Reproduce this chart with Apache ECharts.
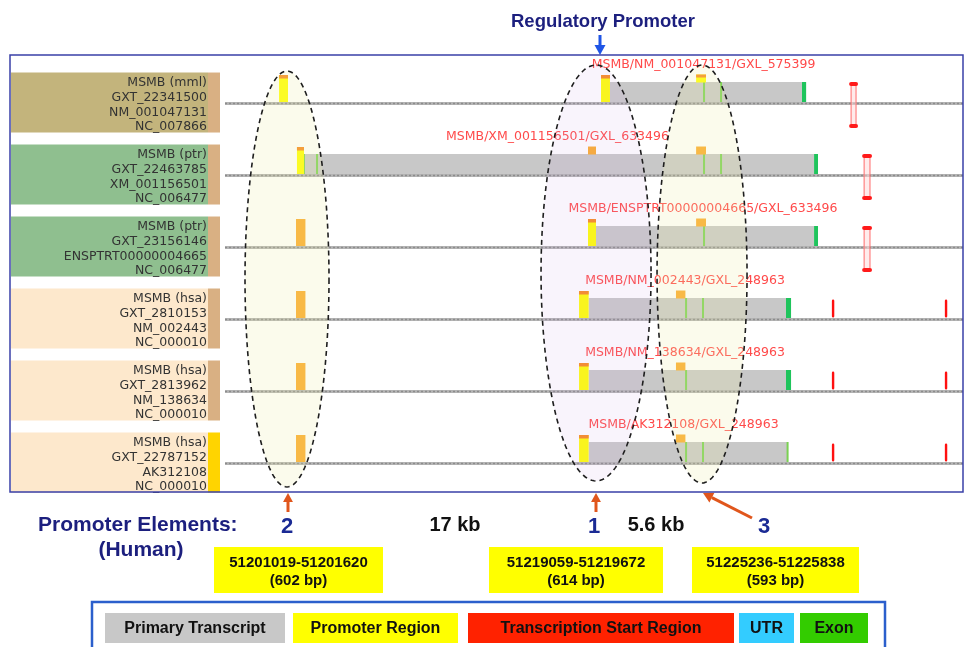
<!DOCTYPE html>
<html>
<head>
<meta charset="utf-8">
<title>MSMB promoter elements</title>
<script src="https://cdn.jsdelivr.net/npm/echarts@6/dist/echarts.min.js"></script>
<style>
  html, body { margin: 0; padding: 0; background: #ffffff; }
  #chart { width: 966px; height: 647px; }
</style>
</head>
<body>
<div id="chart"></div>
<script>
// ---- Track descriptions (one entry per track, top to bottom) ----
const trackSpecies = ['MSMB (mml)', 'MSMB (ptr)', 'MSMB (ptr)', 'MSMB (hsa)', 'MSMB (hsa)', 'MSMB (hsa)'];
const trackLoci = ['GXT_22341500', 'GXT_22463785', 'GXT_23156146', 'GXT_2810153', 'GXT_2813962', 'GXT_22787152'];
const trackAccessions = ['NM_001047131', 'XM_001156501', 'ENSPTRT00000004665', 'NM_002443', 'NM_138634', 'AK312108'];
const trackChromosomes = ['NC_007866', 'NC_006477', 'NC_006477', 'NC_000010', 'NC_000010', 'NC_000010'];
const transcriptNames = [
  'MSMB/NM_001047131/GXL_575399',
  'MSMB/XM_001156501/GXL_633496',
  'MSMB/ENSPTRT00000004665/GXL_633496',
  'MSMB/NM_002443/GXL_248963',
  'MSMB/NM_138634/GXL_248963',
  'MSMB/AK312108/GXL_248963'
];

// Aligned view window, human chr10 coordinates (bp)
const viewStart = 51196494;
const viewEnd = 51243530;

// Primary transcripts: [track, start, end]
const transcripts = [
  [0, 51221030, 51233530],
  [1, 51201530, 51234290],
  [2, 51220140, 51234290],
  [3, 51219672, 51232570],
  [4, 51219672, 51232570],
  [5, 51219672, 51232380]
];

// Promoter regions with their start cap: [track, start, end]
const promoterRegions = [
  [0, 51199940, 51200510],
  [0, 51220460, 51221030],
  [1, 51201080, 51201530],
  [2, 51219630, 51220140],
  [3, 51219059, 51219672],
  [4, 51219059, 51219672],
  [5, 51219059, 51219672]
];

// Upstream promoter elements (full height): [track, start, end]
const upstreamElements = [
  [2, 51201019, 51201620],
  [3, 51201019, 51201620],
  [4, 51201019, 51201620],
  [5, 51201019, 51201620]
];

// Small conserved promoter sites sitting on the transcript: [track, start, end, withPromoterFill]
const conservedSites = [
  [0, 51226520, 51227150, 1],
  [1, 51219630, 51220140, 0],
  [1, 51226520, 51227150, 0],
  [2, 51226520, 51227150, 0],
  [3, 51225236, 51225838, 0],
  [4, 51225236, 51225838, 0],
  [5, 51225236, 51225838, 0]
];

// Exon boundaries: [track, position]
const exonEdges = [
  [0, 51227025], [0, 51228110],
  [1, 51201530], [1, 51202360], [1, 51227025], [1, 51228110],
  [2, 51227025],
  [3, 51225880], [3, 51226960],
  [4, 51225880],
  [5, 51225880], [5, 51226960], [5, 51232350]
];

// Last exons: [track, start, end]
const lastExons = [
  [0, 51233270, 51233530],
  [1, 51234040, 51234290],
  [2, 51234040, 51234290],
  [3, 51232250, 51232570],
  [4, 51232250, 51232570]
];

// Paired transcription start regions: [track, start, end]
const startRegions = [
  [0, 51236270, 51236840],
  [1, 51237100, 51237730],
  [2, 51237100, 51237730]
];

// Single transcription start sites: [track, position]
const startSites = [
  [3, 51235250], [3, 51242450],
  [4, 51235250], [4, 51242450],
  [5, 51235250], [5, 51242450]
];

// Promoter element outlines: [start, end, topTrack, bottomTrack]
const elementOutlines = [
  [51197769, 51203123, -0.451, 5.326],
  [51216636, 51223648, -0.535, 5.243],
  [51224030, 51229766, -0.535, 5.271]
];
const outlineFills = ['rgba(238,238,170,0.22)', 'rgba(205,170,235,0.13)', 'rgba(238,238,170,0.22)'];

// Human promoter elements summary
const humanElementIds = ['2', '1', '3'];
const humanElementStart = [51201019, 51219059, 51225236];
const humanElementEnd = [51201620, 51219672, 51225838];
const humanElementLength = [602, 614, 593];
const elementGaps = ['17 kb', '5.6 kb'];

// Legend
const legendNames = ['Primary Transcript', 'Promoter Region', 'Transcription Start Region', 'UTR', 'Exon'];
const legendColors = ['#c8c8c8', '#ffff00', '#ff2200', '#33ccff', '#33cc00'];

// ---- Drawing ----
const Y_MIN = -0.674, Y_MAX = 5.396;
const TRACK_FONT = '12.5px "DejaVu Sans", Verdana, sans-serif';
const panelColors = { mml: '#c3b47c', ptr: '#8fbf8f', hsa: '#fde8cc' };
const ORANGE = '#fbab2b';
const CAP = '#f7891d';

const chart = echarts.init(document.getElementById('chart'), null, { renderer: 'canvas' });

function pt(api, pos, track) { return api.coord([pos, track]); }

function customOnTracks(name, data, z, encode, renderItem) {
  return {
    type: 'custom', name, xAxisIndex: 1, yAxisIndex: 1, z, data, silent: true,
    animation: false, encode, renderItem
  };
}

const trackIdx = trackSpecies.map((_, i) => [i]);

const series = [
  // label panels on the left
  {
    type: 'custom', xAxisIndex: 0, yAxisIndex: 0, z: 2, silent: true, animation: false,
    data: trackIdx.map(d => [0.5, d[0]]), encode: { x: 0, y: 1 },
    renderItem(params, api) {
      const i = api.value(1);
      const b = api.coord([0, i])[1];
      const left = params.coordSys.x, w = params.coordSys.width;
      const code = trackSpecies[i].match(/\((\w+)\)/)[1];
      const strip = i === trackSpecies.length - 1 ? '#ffd400' : '#d9b083';
      const lines = [trackSpecies[i], trackLoci[i], trackAccessions[i], trackChromosomes[i]];
      return {
        type: 'group',
        children: [
          { type: 'rect', shape: { x: left, y: b - 31, width: w - 12, height: 60 }, style: { fill: panelColors[code] } },
          { type: 'rect', shape: { x: left + w - 12, y: b - 31, width: 12, height: 60 }, style: { fill: strip } }
        ].concat(lines.map((t, k) => ({
          type: 'text',
          style: { text: t, x: left + w - 13, y: b - 20.5 + k * 14.7, align: 'right', verticalAlign: 'middle', font: TRACK_FONT, fill: '#333333' }
        })))
      };
    }
  },
  // track baselines
  customOnTracks('baseline', trackIdx.map(d => [viewStart, d[0]]), 1, { x: 0, y: 1 }, (params, api) => {
    const b = api.coord([viewStart, api.value(1)])[1];
    const cs = params.coordSys;
    return {
      type: 'group',
      children: [
        { type: 'line', shape: { x1: cs.x, y1: b, x2: cs.x + cs.width, y2: b }, style: { stroke: '#b4b4b4', lineWidth: 3 } },
        { type: 'line', shape: { x1: cs.x, y1: b, x2: cs.x + cs.width, y2: b }, style: { stroke: '#8c8c8c', lineWidth: 1.4, lineDash: [2, 2] } }
      ]
    };
  }),
  // primary transcripts
  customOnTracks('transcript', transcripts, 2, { x: [1, 2], y: 0 }, (params, api) => {
    const a = pt(api, api.value(1), api.value(0)), c = pt(api, api.value(2), api.value(0));
    return { type: 'rect', shape: { x: a[0], y: a[1] - 21.5, width: c[0] - a[0], height: 20 }, style: { fill: '#c8c8c8' } };
  }),
  // exon boundaries
  customOnTracks('exon', exonEdges, 3, { x: 1, y: 0 }, (params, api) => {
    const a = pt(api, api.value(1), api.value(0));
    return { type: 'rect', shape: { x: a[0] - 1, y: a[1] - 21.5, width: 2, height: 20 }, style: { fill: '#7ad152' } };
  }),
  // last exons
  customOnTracks('lastExon', lastExons, 3, { x: [1, 2], y: 0 }, (params, api) => {
    const a = pt(api, api.value(1), api.value(0)), c = pt(api, api.value(2), api.value(0));
    return { type: 'rect', shape: { x: a[0], y: a[1] - 21.5, width: c[0] - a[0], height: 20 }, style: { fill: '#1fc45c' } };
  }),
  // promoter regions with start cap
  customOnTracks('promoter', promoterRegions, 4, { x: [1, 2], y: 0 }, (params, api) => {
    const a = pt(api, api.value(1), api.value(0)), c = pt(api, api.value(2), api.value(0));
    const w = c[0] - a[0], b = a[1];
    return {
      type: 'group',
      children: [
        { type: 'rect', shape: { x: a[0], y: b - 28.5, width: w, height: 27 }, style: { fill: '#ffff00' } },
        { type: 'rect', shape: { x: a[0], y: b - 28.5, width: w, height: 3.5 }, style: { fill: CAP } }
      ]
    };
  }),
  // upstream elements
  customOnTracks('upstream', upstreamElements, 4, { x: [1, 2], y: 0 }, (params, api) => {
    const a = pt(api, api.value(1), api.value(0)), c = pt(api, api.value(2), api.value(0));
    return { type: 'rect', shape: { x: a[0], y: a[1] - 28.5, width: c[0] - a[0], height: 27 }, style: { fill: ORANGE } };
  }),
  // conserved sites above the transcript
  customOnTracks('site', conservedSites, 4, { x: [1, 2], y: 0 }, (params, api) => {
    const a = pt(api, api.value(1), api.value(0)), c = pt(api, api.value(2), api.value(0));
    const w = c[0] - a[0], b = a[1];
    if (api.value(3)) {
      return {
        type: 'group',
        children: [
          { type: 'rect', shape: { x: a[0], y: b - 29, width: w, height: 8 }, style: { fill: '#ffff00' } },
          { type: 'rect', shape: { x: a[0], y: b - 29, width: w, height: 3 }, style: { fill: CAP } }
        ]
      };
    }
    return { type: 'rect', shape: { x: a[0], y: b - 29, width: w, height: 8 }, style: { fill: ORANGE } };
  }),
  // paired transcription start regions
  customOnTracks('startRegion', startRegions, 4, { x: [1, 2], y: 0 }, (params, api) => {
    const a = pt(api, api.value(1), api.value(0)), c = pt(api, api.value(2), api.value(0));
    const w = c[0] - a[0], b = a[1];
    return {
      type: 'group',
      children: [
        { type: 'rect', shape: { x: a[0] + 2, y: b - 18.5, width: w - 4, height: 39.5 }, style: { fill: 'rgba(255,215,215,0.5)', stroke: '#ff6b6b', lineWidth: 1 } },
        { type: 'rect', shape: { x: a[0], y: b - 21.5, width: w, height: 4, r: 2 }, style: { fill: '#ff1a1a' } },
        { type: 'rect', shape: { x: a[0], y: b + 20.5, width: w, height: 4, r: 2 }, style: { fill: '#ff1a1a' } }
      ]
    };
  }),
  // single transcription start sites
  customOnTracks('startSite', startSites, 4, { x: 1, y: 0 }, (params, api) => {
    const a = pt(api, api.value(1), api.value(0));
    return { type: 'rect', shape: { x: a[0] - 1.2, y: a[1] - 20, width: 2.4, height: 18, r: 1.2 }, style: { fill: '#ff1010' } };
  }),
  // transcript names, centred on the gene model
  customOnTracks('name', trackIdx.map(d => {
    const t = d[0];
    const starts = promoterRegions.filter(r => r[0] === t).map(r => r[1]).concat(transcripts.filter(r => r[0] === t).map(r => r[1]));
    const tr = transcripts.find(r => r[0] === t);
    const s = Math.max(...promoterRegions.filter(r => r[0] === t && r[2] <= tr[1] + 1000).map(r => r[1]).concat([Math.min(...starts)]));
    return [t, s, tr[2]];
  }), 5, { x: [1, 2], y: 0 }, (params, api) => {
    const t = api.value(0);
    const a = pt(api, api.value(1), t), c = pt(api, api.value(2), t);
    return {
      type: 'text',
      style: { text: transcriptNames[t], x: (a[0] + c[0]) / 2, y: a[1] - 39, align: 'center', verticalAlign: 'middle', font: TRACK_FONT, fill: '#ff4a4a' }
    };
  }),
  // dashed outlines around the conserved promoter elements
  customOnTracks('outline', elementOutlines, 6, { x: [0, 1], y: [2, 3] }, (params, api) => {
    const l = api.coord([api.value(0), api.value(2)]);
    const r = api.coord([api.value(1), api.value(3)]);
    const cx = (l[0] + r[0]) / 2, rx = (r[0] - l[0]) / 2;
    const cy = (l[1] + r[1]) / 2, ry = (r[1] - l[1]) / 2;
    const points = [];
    for (let k = 0; k < 160; k++) {
      const th = (k / 160) * Math.PI * 2;
      points.push([cx + rx * Math.cos(th), cy + ry * Math.sin(th)]);
    }
    return {
      type: 'polygon', shape: { points },
      style: { fill: outlineFills[params.dataIndex], stroke: '#1e1e1e', lineWidth: 1.6, lineDash: [5, 4] }
    };
  })
];

// ---- Annotations around the browser view ----
function arrow(x1, y1, x2, y2, color, width, head) {
  const dx = x2 - x1, dy = y2 - y1, len = Math.hypot(dx, dy);
  const ux = dx / len, uy = dy / len;
  const bx = x2 - ux * head, by = y2 - uy * head;
  const px = -uy * head * 0.55, py = ux * head * 0.55;
  return [
    { type: 'line', shape: { x1, y1, x2: bx, y2: by }, style: { stroke: color, lineWidth: width } },
    { type: 'polygon', shape: { points: [[x2, y2], [bx + px, by + py], [bx - px, by - py]] }, style: { fill: color } }
  ];
}

const NAVY = '#1c1f7e';
const BOLD = (size) => 'bold ' + size + 'px "Liberation Sans", Arial, sans-serif';
const graphic = [];

// browser frame
graphic.push({ type: 'rect', shape: { x: 10, y: 55, width: 953, height: 437 }, style: { fill: 'none', stroke: '#3a40a8', lineWidth: 1.5 }, z: 10 });

// regulatory promoter pointer
graphic.push({ type: 'text', style: { text: 'Regulatory Promoter', x: 603, y: 22, align: 'center', verticalAlign: 'middle', font: BOLD(18.5), fill: NAVY } });
arrow(600, 35, 600, 55, '#1f55e6', 3, 10).forEach(g => graphic.push(g));

// element pointers below the frame
arrow(288, 512, 288, 493, '#e0561c', 3, 9).forEach(g => graphic.push(g));
arrow(596, 512, 596, 493, '#e0561c', 3, 9).forEach(g => graphic.push(g));
arrow(752, 518, 703, 493, '#e0561c', 3, 10).forEach(g => graphic.push(g));

graphic.push({ type: 'text', style: { text: 'Promoter Elements:', x: 38, y: 525, align: 'left', verticalAlign: 'middle', font: BOLD(21), fill: NAVY } });
graphic.push({ type: 'text', style: { text: '(Human)', x: 141, y: 550, align: 'center', verticalAlign: 'middle', font: BOLD(21), fill: NAVY } });

const idX = [287, 594, 764];
humanElementIds.forEach((id, i) => {
  graphic.push({ type: 'text', style: { text: id, x: idX[i], y: 527, align: 'center', verticalAlign: 'middle', font: BOLD(22), fill: '#1a2a94' } });
});
const gapX = [455, 656];
elementGaps.forEach((g, i) => {
  graphic.push({ type: 'text', style: { text: g, x: gapX[i], y: 525, align: 'center', verticalAlign: 'middle', font: BOLD(20), fill: '#111111' } });
});

const boxX = [[214, 383], [489, 663], [692, 859]];
humanElementStart.forEach((s, i) => {
  const [x0, x1] = boxX[i];
  graphic.push({ type: 'rect', shape: { x: x0, y: 547, width: x1 - x0, height: 46 }, style: { fill: '#ffff00' } });
  graphic.push({ type: 'text', style: { text: s + '-' + humanElementEnd[i], x: (x0 + x1) / 2, y: 563, align: 'center', verticalAlign: 'middle', font: BOLD(15), fill: '#111111' } });
  graphic.push({ type: 'text', style: { text: '(' + humanElementLength[i] + ' bp)', x: (x0 + x1) / 2, y: 581, align: 'center', verticalAlign: 'middle', font: BOLD(15), fill: '#111111' } });
});

// legend
graphic.push({ type: 'rect', shape: { x: 92, y: 602, width: 793, height: 70 }, style: { fill: '#ffffff', stroke: '#2b5fcc', lineWidth: 2.5 } });
const legendX = [[105, 285], [293, 458], [468, 734], [739, 794], [800, 868]];
legendNames.forEach((n, i) => {
  const [x0, x1] = legendX[i];
  graphic.push({ type: 'rect', shape: { x: x0, y: 613, width: x1 - x0, height: 30 }, style: { fill: legendColors[i] } });
  graphic.push({ type: 'text', style: { text: n, x: (x0 + x1) / 2, y: 629, align: 'center', verticalAlign: 'middle', font: BOLD(16), fill: '#111111' } });
});

chart.setOption({
  backgroundColor: '#ffffff',
  animation: false,
  grid: [
    { left: 11, top: 55, width: 209, height: 437 },
    { left: 225, top: 55, width: 738, height: 437 }
  ],
  xAxis: [
    { gridIndex: 0, type: 'value', min: 0, max: 1, show: false },
    { gridIndex: 1, type: 'value', min: viewStart, max: viewEnd, show: false }
  ],
  yAxis: [
    { gridIndex: 0, type: 'value', min: Y_MIN, max: Y_MAX, inverse: true, show: false },
    { gridIndex: 1, type: 'value', min: Y_MIN, max: Y_MAX, inverse: true, show: false }
  ],
  series,
  graphic
});
</script>
</body>
</html>
